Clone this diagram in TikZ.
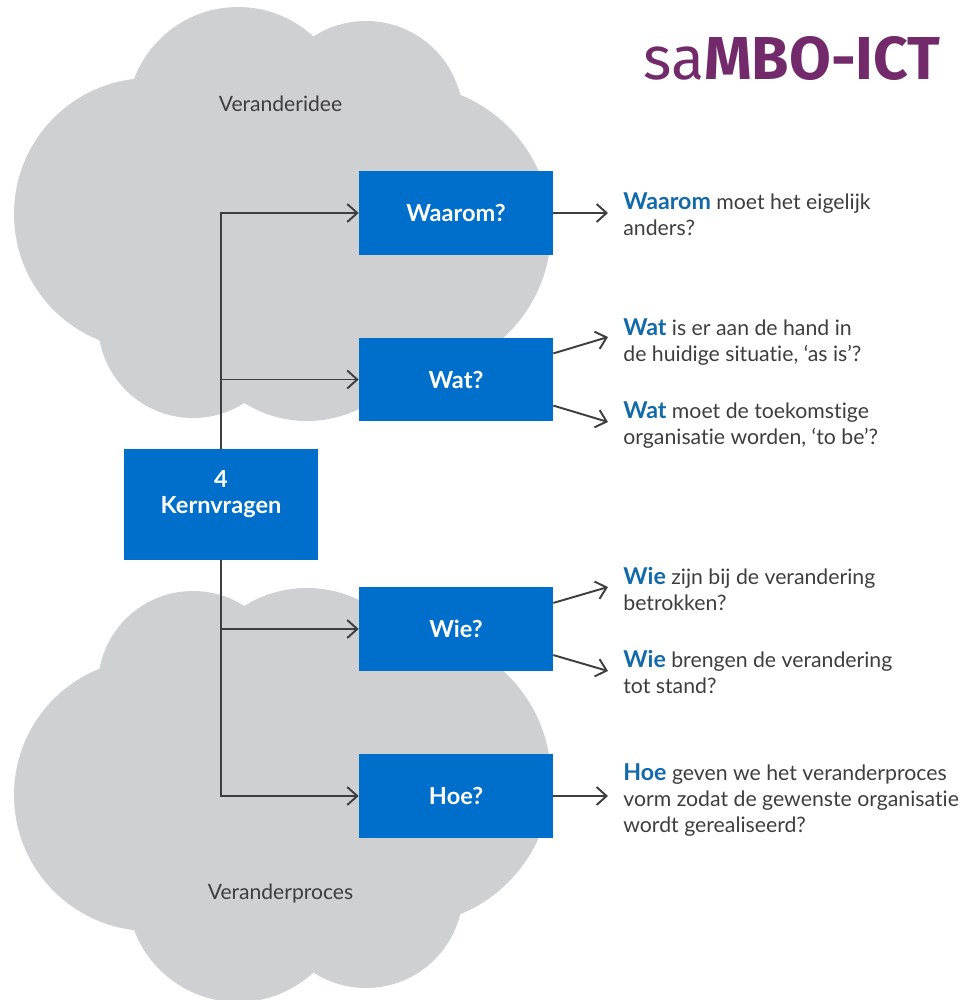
\documentclass[tikz,border=0pt]{standalone}
\usepackage{fontspec}
\usepackage{tikz}
\usepackage{xcolor}
\setmainfont{Lato}[Ligatures=NoCommon]
\newfontfamily\logofont{Fira Sans}
\usetikzlibrary{arrows.meta}
\definecolor{cloudgray}{RGB}{207,208,210}
\definecolor{boxblue}{RGB}{0,111,204}
\definecolor{keyblue}{RGB}{18,106,170}
\definecolor{inkgray}{RGB}{62,62,62}
\definecolor{logopurple}{RGB}{114,42,107}
\newcommand{\kw}[1]{{\fontsize{13.2}{14.8}\selectfont\textbf{\textcolor{keyblue}{#1}}}}
\tikzset{
  vraagbox/.style={fill=boxblue, text=white, font=\fontsize{13.4}{15.3}\selectfont\bfseries, minimum width=3.88cm, minimum height=1.67cm, inner sep=0pt, align=center},
  uitleg/.style={anchor=north west, text=inkgray, inner sep=0pt, align=left, font=\fontsize{12.1}{14.8}\selectfont},
  pijl/.style={draw=inkgray, line width=1.1pt, -{Straight Barb[length=2mm, width=3.6mm]}},
  wolktekst/.style={text=inkgray, inner sep=0pt, font=\fontsize{12}{14}\selectfont}
}
\begin{document}
\begin{tikzpicture}[x=0.02cm, y=-0.02cm]
    \useasboundingbox (0,0) rectangle (967,1000);
    % the two clouds, the lower one is the upper one mirrored
    \foreach \a/\b/\r in {238/118/111, 366/118/97, 150/214/136, 193/323/95, 307/303/118, 405/230/146, 280/220/150}{
      \fill[cloudgray] (\a,\b) circle[radius=\r];
      \fill[cloudgray] (\a,{1009-\b}) circle[radius=\r];
    }
    \node[wolktekst] (idee) at (280.5,104) {Veranderidee};
    \node[wolktekst] (proces) at (280.5,894) {Veranderproces};
    \node[text=logopurple, inner sep=0pt, anchor=base east, font=\logofont\fontsize{34.5}{34.5}\selectfont] (logo) at (941,80) {sa\textbf{MBO-ICT}};
    % the boxes
    \node[vraagbox, minimum height=2.22cm] (kern) at (221,504.5) {4\\Kernvragen\\[-5.7pt]\strut};
    \node[vraagbox] (waarom) at (456,213) {Waarom?};
    \node[vraagbox] (wat) at (456,379.5) {Wat?};
    \node[vraagbox] (wie) at (456,629) {Wie?};
    \node[vraagbox] (hoe) at (456,796) {Hoe?};
    % the explanations
    \node[uitleg] (txtwaarom) at (623,192) {\kw{Waarom} moet het eigelijk\\anders?};
    \node[uitleg] (txtwatis) at (623,318) {\kw{Wat} is er aan de hand in\\de huidige situatie, ‘as is’?};
    \node[uitleg] (txtwatmoet) at (623,401) {\kw{Wat} moet de toekomstige\\organisatie worden, ‘to be’?};
    \node[uitleg] (txtwiezijn) at (623,567) {\kw{Wie} zijn bij de verandering\\betrokken?};
    \node[uitleg] (txtwiebreng) at (623,650) {\kw{Wie} brengen de verandering\\tot stand?};
    \node[uitleg] (txthoe) at (623,763) {\kw{Hoe} geven we het veranderproces\\vorm zodat de gewenste organisatie\\wordt gerealiseerd?};
    % free ends of the arrows on the right
    \coordinate (eindwaarom) at (608,213);
    \coordinate (eindwatis) at (608,337);
    \coordinate (eindwatmoet) at (608,422);
    \coordinate (eindwiezijn) at (608,587);
    \coordinate (eindwiebreng) at (608,671);
    \coordinate (eindhoe) at (608,796);
    \draw[pijl] (kern.north) |- (waarom);
    \draw[pijl] (kern.north) |- (wat);
    \draw[pijl] (kern.south) |- (wie);
    \draw[pijl] (kern.south) |- (hoe);
    \draw[pijl] (waarom) -- (eindwaarom);
    \draw[pijl] (wat.15) -- (eindwatis);
    \draw[pijl] (wat.-15) -- (eindwatmoet);
    \draw[pijl] (wie.15) -- (eindwiezijn);
    \draw[pijl] (wie.-15) -- (eindwiebreng);
    \draw[pijl] (hoe) -- (eindhoe);
\end{tikzpicture}
\end{document}
